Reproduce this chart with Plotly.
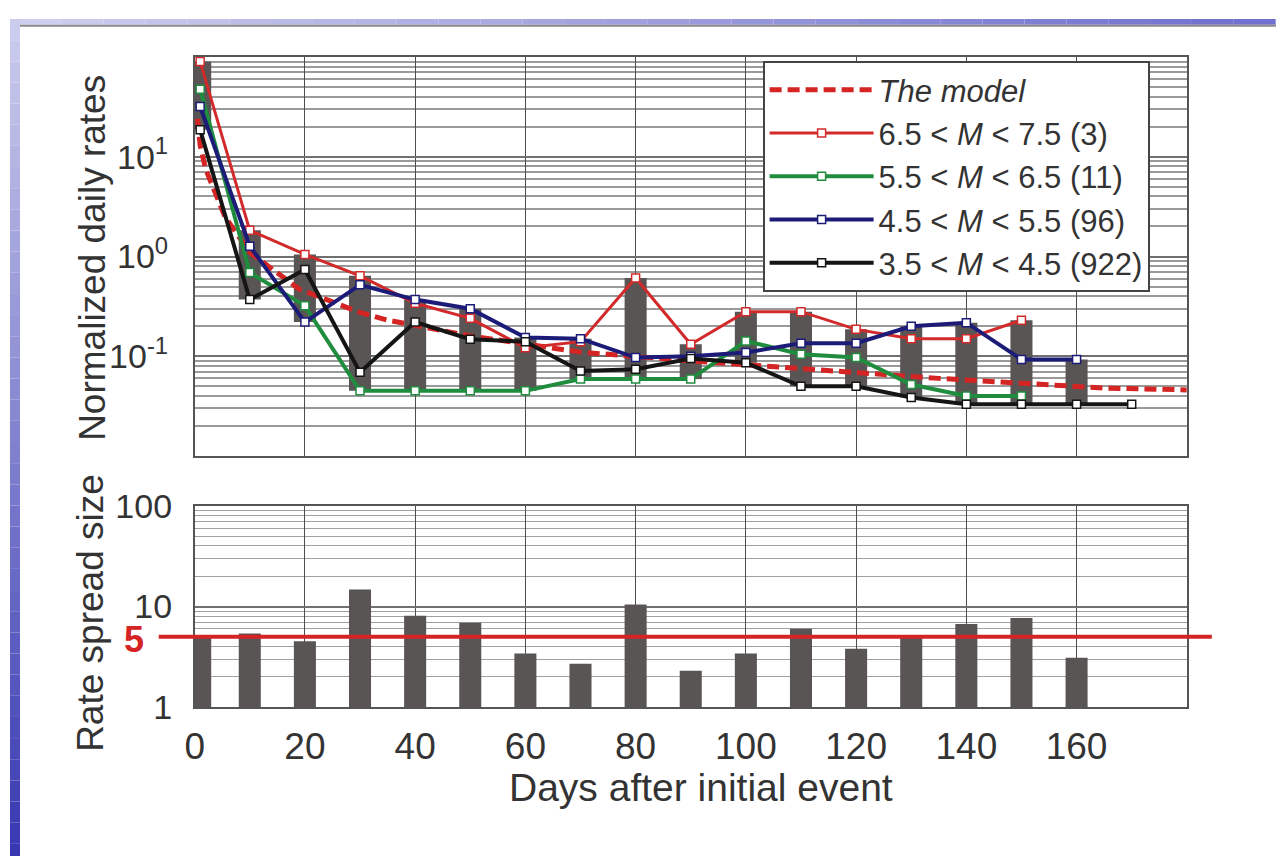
import math
import plotly.graph_objects as go

# Screen placement of the figure inside the page, and figure size
W, H = 1276, 856
OX, OY = 8, 20
SX, SY = 0.994, 0.957
FW, FH = 1276, 884

# Days after the initial event at which each magnitude class was sampled
days = [1, 10, 20, 30, 40, 50, 60, 70, 80, 90, 100, 110, 120, 130, 140, 150, 160, 170]

# Normalized daily rates per magnitude class (None = no data)
rate_m65_75 = [90, 1.83, 1.05, 0.64, 0.34, 0.24, 0.122, 0.14, 0.61, 0.132,
               0.28, 0.28, 0.186, 0.15, 0.15, 0.23, None, None]
rate_m55_65 = [47.5, 0.69, 0.32, 0.045, 0.045, 0.045, 0.045, 0.059, 0.059, 0.059,
               0.142, 0.105, 0.097, 0.052, 0.040, 0.040, None, None]
rate_m45_55 = [31.9, 1.27, 0.22, 0.52, 0.37, 0.30, 0.154, 0.15, 0.097, 0.10,
               0.109, 0.135, 0.135, 0.20, 0.217, 0.093, 0.093, None]
rate_m35_45 = [18.6, 0.37, 0.74, 0.069, 0.22, 0.148, 0.14, 0.071, 0.074, 0.095,
               0.086, 0.05, 0.05, 0.0386, 0.033, 0.033, 0.033, 0.033]

# Model curve
model_days = [0.5, 1, 2, 3.5, 5.5, 10, 19, 30, 35, 50, 70, 90, 110, 135, 165, 180]
model_rate = [24, 13, 7.5, 4.7, 2.5, 1.1, 0.47, 0.275, 0.23, 0.16, 0.11, 0.09,
              0.076, 0.06, 0.048, 0.046]

# Rate spread size (max / min ratio) per sampled day
spread_days = [1, 10, 20, 30, 40, 50, 60, 70, 80, 90, 100, 110, 120, 130, 140, 150, 160]
spread_size = [4.9, 5.4, 4.5, 14.8, 8.1, 6.9, 3.4, 2.7, 10.5, 2.3,
               3.4, 6.0, 3.8, 5.2, 6.7, 7.7, 3.1]
spread_threshold = 5

x_ticks = [0, 20, 40, 60, 80, 100, 120, 140, 160]

series = [
    ("6.5 &lt; <i>M</i> &lt; 7.5 (3)", rate_m65_75, "#d22a2a", 3),
    ("5.5 &lt; <i>M</i> &lt; 6.5 (11)", rate_m55_65, "#1f8c3e", 4),
    ("4.5 &lt; <i>M</i> &lt; 5.5 (96)", rate_m45_55, "#1c1c78", 4),
    ("3.5 &lt; <i>M</i> &lt; 4.5 (922)", rate_m35_45, "#151515", 4),
]

FONT = "Liberation Sans, Arial, sans-serif"
TXT = "#333333"
BAR = "#595555"
RED = "#d42424"
SPREAD_LOG_RANGE = [0, 2]


def px_x(p):
    return (p - OX) / SX / FW


def px_y(p):
    return 1 - (p - OY) / SY / FH


fig = go.Figure()

# Floating spread bars in the upper panel: from the lowest to the highest class rate
lo, hi, bx = [], [], []
for i, d in enumerate(days):
    vals = [s[1][i] for s in series if s[1][i] is not None]
    if len(vals) >= 2:
        bx.append(d)
        lo.append(min(vals))
        hi.append(max(vals) - min(vals))
fig.add_trace(go.Bar(x=bx, y=hi, base=lo, width=4, marker=dict(color=BAR, line=dict(width=0)),
                     showlegend=False, xaxis="x", yaxis="y"))

fig.add_trace(go.Scatter(x=model_days, y=model_rate, mode="lines", name="<i>The model</i>",
                         line=dict(color=RED, width=5, dash="12px,6px"),
                         xaxis="x", yaxis="y"))

for name, vals, color, w in series:
    fig.add_trace(go.Scatter(
        x=days, y=vals, mode="lines+markers", name=name,
        line=dict(color=color, width=w),
        marker=dict(symbol="square", size=8, color="white", line=dict(color=color, width=1.5)),
        connectgaps=False, xaxis="x", yaxis="y"))

fig.add_trace(go.Bar(x=spread_days, y=spread_size, width=4,
                     marker=dict(color=BAR, line=dict(width=0)),
                     showlegend=False, xaxis="x2", yaxis="y2"))

xdom = [px_x(193), px_x(1187)]
minor_top = [m * 10 ** k for k in range(-2, 2) for m in range(2, 10)]
minor_bot = [m * 10 ** k for k in range(0, 2) for m in range(2, 10)]

axis_common = dict(showline=True, linecolor="#555555", linewidth=1.5, mirror=True,
                   zeroline=False)
ytickfont = dict(family=FONT, size=34, color=TXT)
xtickfont = dict(family=FONT, size=37, color=TXT)

fig.update_layout(
    width=FW, height=FH,
    autosize=False,
    margin=dict(l=0, r=0, t=0, b=0),
    paper_bgcolor="white", plot_bgcolor="white",
    barmode="overlay",
    font=dict(family=FONT, color=TXT),
    xaxis=dict(domain=xdom, range=[0, 180], tickvals=x_ticks, showticklabels=False,
               showgrid=True, gridcolor="#4d4d4d", gridwidth=1.2, anchor="y", **axis_common),
    yaxis=dict(domain=[px_y(457), px_y(58)], type="log", range=[-2, 2],
               tickvals=[0.1, 1, 10],
               ticktext=["10<sup>-1</sup>", "10<sup>0</sup>", "10<sup>1</sup>"],
               tickfont=ytickfont, ticklabelstandoff=18,
               showgrid=True, gridcolor="#707070", gridwidth=1.6,
               minor=dict(tickvals=minor_top, showgrid=True, gridcolor="#9a9a9a", gridwidth=1.6),
               anchor="x", **axis_common),
    xaxis2=dict(domain=xdom, range=[0, 180], tickvals=x_ticks,
                showgrid=True, gridcolor="#4d4d4d", gridwidth=1.2, anchor="y2",
                tickfont=xtickfont, ticklabelstandoff=6, **axis_common),
    yaxis2=dict(domain=[px_y(708), px_y(507)], type="log", range=SPREAD_LOG_RANGE,
                tickvals=[1, 10, 100], ticktext=["1", "10", "100"],
                tickfont=ytickfont, ticklabelstandoff=14,
                showgrid=True, gridcolor="#707070", gridwidth=1.6,
                minor=dict(tickvals=minor_bot, showgrid=True, gridcolor="#a0a0a0", gridwidth=1.4),
                anchor="x2", **axis_common),
    legend=dict(x=px_x(762), y=px_y(62), xanchor="left", yanchor="top",
                bgcolor="white", bordercolor="#444444", borderwidth=2,
                font=dict(family=FONT, size=31, color=TXT),
                itemwidth=104, tracegroupgap=0),
    showlegend=True,
)

# Threshold line for the spread size, running past both axes
thr_frac = (math.log10(spread_threshold) - SPREAD_LOG_RANGE[0]) / (SPREAD_LOG_RANGE[1] - SPREAD_LOG_RANGE[0])
fig.add_shape(type="line", xref="paper", yref="y2 domain",
              x0=px_x(157), x1=px_x(1212), y0=thr_frac, y1=thr_frac,
              line=dict(color=RED, width=4), layer="above")
fig.add_annotation(text="<b>%d</b>" % spread_threshold, xref="paper", yref="y2 domain",
                   x=px_x(132), y=thr_frac, yshift=-3, xanchor="center", yanchor="middle",
                   showarrow=False, font=dict(family=FONT, size=36, color=RED))

# Axis titles
fig.add_annotation(text="Normalized daily rates", xref="paper", yref="paper",
                   x=px_x(90), y=px_y(259), xanchor="center", yanchor="middle",
                   textangle=-90, showarrow=False,
                   font=dict(family=FONT, size=37, color=TXT))
fig.add_annotation(text="Rate spread size", xref="paper", yref="paper",
                   x=px_x(88), y=px_y(614), xanchor="center", yanchor="middle",
                   textangle=-90, showarrow=False,
                   font=dict(family=FONT, size=37, color=TXT))
fig.add_annotation(text="Days after initial event", xref="paper", yref="paper",
                   x=px_x(700), y=px_y(788), xanchor="center", yanchor="middle",
                   showarrow=False,
                   font=dict(family=FONT, size=39, color=TXT))

# Slide frame: shaded strip down the left edge and a band across the top
n = 40
for i in range(n):
    t = i / (n - 1)
    r = int(56 + (204 - 56) * t)
    g = int(56 + (204 - 56) * t)
    b = int(178 + (238 - 178) * t)
    fig.add_shape(type="rect", xref="paper", yref="paper",
                  x0=0, x1=px_x(18), y0=i / n, y1=(i + 1) / n,
                  fillcolor=f"rgb({r},{g},{b})", line=dict(width=0), layer="above")
m = 30
for i in range(m):
    t = i / (m - 1)
    r = int(206 + (112 - 206) * t)
    g = int(206 + (112 - 206) * t)
    b = int(238 + (206 - 238) * t)
    x0 = 18 + i * (W - 18) / m
    x1 = 18 + (i + 1) * (W - 18) / m
    fig.add_shape(type="rect", xref="paper", yref="paper",
                  x0=px_x(x0), x1=min(1, px_x(x1)), y0=1 - 6 / FH, y1=1,
                  fillcolor=f"rgb({r},{g},{b})", line=dict(width=0), layer="above")
fig.add_shape(type="rect", xref="paper", yref="paper",
              x0=px_x(18), x1=1, y0=1 - 8 / FH, y1=1 - 6 / FH,
              fillcolor="#8a8a8a", line=dict(width=0), layer="above")

fig.write_html("out.html")
